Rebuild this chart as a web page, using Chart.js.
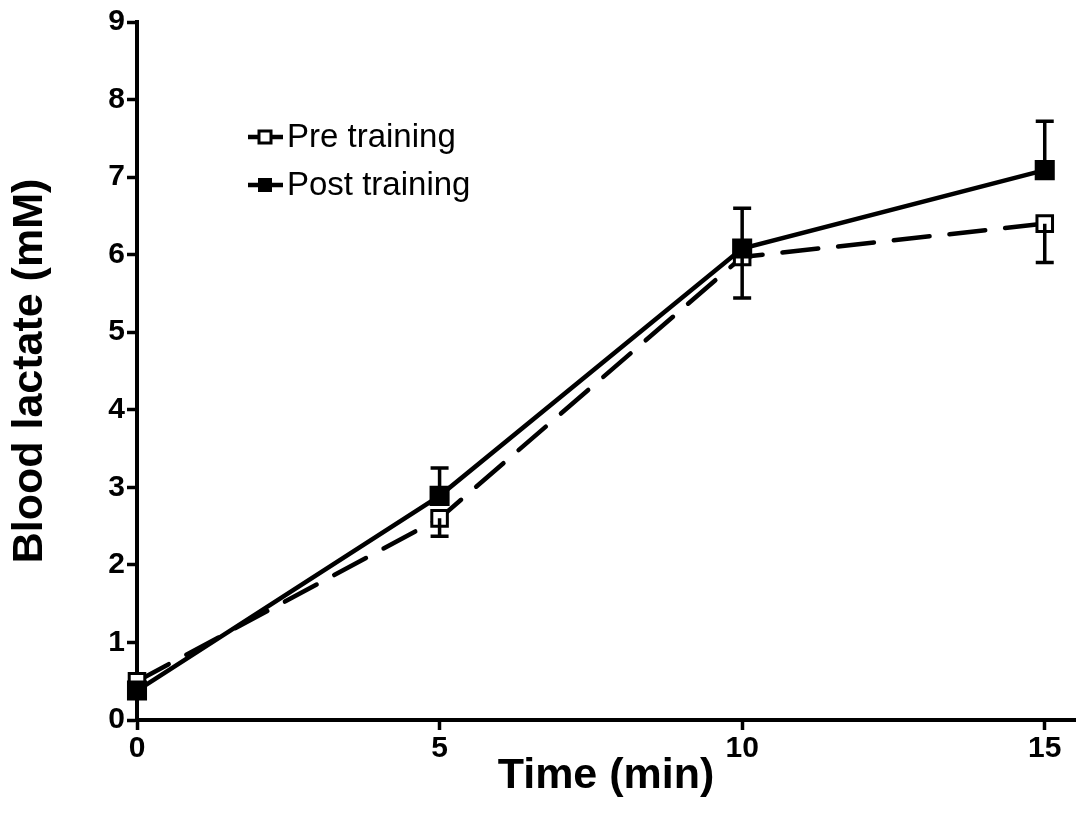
<!DOCTYPE html>
<html>
<head>
<meta charset="utf-8">
<script src="https://cdn.jsdelivr.net/npm/chart.js"></script>
<style>
  html, body { margin: 0; padding: 0; background: #fff; }
  #wrap { width: 1079px; height: 826px; }
</style>
</head>
<body>
<div id="wrap"><canvas id="c" width="1079" height="826"></canvas></div>
<script>
// --- データ ---
const times = [0, 5, 10, 15];
const preValues = [0.5, 2.6, 5.97, 6.4];
const preErr = [0.05, 0.23, 0.53, 0.5];     // 下向きのエラーバー
const postValues = [0.38, 2.89, 6.08, 7.09];
const postErr = [0.05, 0.36, 0.52, 0.63];   // 上向きのエラーバー
const xTicks = [0, 5, 10, 15];
const yTicks = [0, 1, 2, 3, 4, 5, 6, 7, 8, 9];

const FONT = "'Liberation Sans', Arial, sans-serif";

// エラーバー描画（片側のみ）
const errorBars = {
  id: 'errorBars',
  afterDatasetsDraw(chart) {
    const ctx = chart.ctx;
    const x = chart.scales.x, y = chart.scales.y;
    ctx.save();
    ctx.strokeStyle = '#000';
    ctx.lineWidth = 3.5;
    const draw = (vals, errs, dir) => {
      vals.forEach((v, i) => {
        const px = x.getPixelForValue(times[i]);
        const p0 = y.getPixelForValue(v);
        const p1 = y.getPixelForValue(v + dir * errs[i]);
        ctx.beginPath();
        ctx.moveTo(px, p0); ctx.lineTo(px, p1);
        ctx.moveTo(px - 9, p1); ctx.lineTo(px + 9, p1);
        ctx.stroke();
      });
    };
    draw(preValues, preErr, -1);
    draw(postValues, postErr, 1);
    ctx.restore();
  }
};

// 凡例（グラフ内部に描く）
const innerLegend = {
  id: 'innerLegend',
  afterDraw(chart) {
    const ctx = chart.ctx;
    ctx.save();
    ctx.strokeStyle = '#000';
    ctx.lineWidth = 4.5;
    ctx.fillStyle = '#000';
    ctx.font = '33px ' + FONT;
    ctx.textBaseline = 'middle';
    const items = [
      { label: 'Pre training', y: 137, open: true },
      { label: 'Post training', y: 185, open: false }
    ];
    items.forEach(it => {
      ctx.beginPath();
      ctx.moveTo(248, it.y); ctx.lineTo(283, it.y);
      ctx.stroke();
      if (it.open) {
        ctx.fillStyle = '#fff';
        ctx.fillRect(259, it.y - 6, 12, 12);
        ctx.lineWidth = 3;
        ctx.strokeRect(259, it.y - 6, 12, 12);
        ctx.lineWidth = 4.5;
      } else {
        ctx.fillStyle = '#000';
        ctx.fillRect(258, it.y - 7, 14, 14);
      }
      ctx.fillStyle = '#000';
      ctx.fillText(it.label, 287, it.y + 1);
    });
    ctx.restore();
  }
};

// ラベルのはみ出し分の余白を付けない
const noLabelPad = s => { s.paddingLeft = 0; s.paddingRight = 0; s.paddingTop = 0; s.paddingBottom = 0; };

new Chart(document.getElementById('c'), {
  type: 'line',
  data: {
    datasets: [
      {
        label: 'Pre training',
        data: times.map((t, i) => ({ x: t, y: preValues[i] })),
        borderColor: '#000',
        borderWidth: 4.5,
        borderDash: [36, 20],
        borderCapStyle: 'round',
        pointStyle: 'rect',
        pointRadius: 11,
        pointBorderWidth: 3,
        pointBackgroundColor: '#fff',
        pointBorderColor: '#000',
        clip: false,
        order: 2
      },
      {
        label: 'Post training',
        data: times.map((t, i) => ({ x: t, y: postValues[i] })),
        borderColor: '#000',
        borderWidth: 4.5,
        pointStyle: 'rect',
        pointRadius: 11,
        pointBackgroundColor: '#000',
        pointBorderColor: '#000',
        clip: false,
        order: 1
      }
    ]
  },
  options: {
    responsive: false,
    animation: false,
    layout: { autoPadding: false, padding: { top: 22, right: 4, left: 0, bottom: 0 } },
    plugins: { legend: { display: false }, tooltip: { enabled: false } },
    scales: {
      x: {
        type: 'linear',
        min: 0,
        max: 15.5,
        afterBuildTicks: s => { s.ticks = xTicks.map(v => ({ value: v })); },
        afterFit: s => { s.height = 106; noLabelPad(s); },
        grid: { drawOnChartArea: false, drawTicks: true, tickLength: 10, tickWidth: 3.5, tickColor: '#000' },
        border: { display: true, color: '#000', width: 4 },
        ticks: { color: '#000', font: { family: FONT, size: 30, weight: 'bold' }, padding: 1, maxRotation: 0 },
        title: { display: true, text: 'Time (min)', color: '#000', font: { family: FONT, size: 43, weight: 'bold' }, padding: { top: 0, bottom: 24 } }
      },
      y: {
        min: 0,
        max: 9,
        afterBuildTicks: s => { s.ticks = yTicks.map(v => ({ value: v })); },
        afterFit: s => { s.width = 137; noLabelPad(s); },
        grid: { drawOnChartArea: false, drawTicks: true, tickLength: 10, tickWidth: 3.5, tickColor: '#000' },
        border: { display: true, color: '#000', width: 4 },
        ticks: { color: '#000', font: { family: FONT, size: 30, weight: 'bold' }, padding: 2 },
        title: { display: true, text: 'Blood lactate (mM)', color: '#000', font: { family: FONT, size: 43, weight: 'bold' }, padding: { top: 4, bottom: 0 } }
      }
    }
  },
  plugins: [errorBars, innerLegend]
});
</script>
</body>
</html>
